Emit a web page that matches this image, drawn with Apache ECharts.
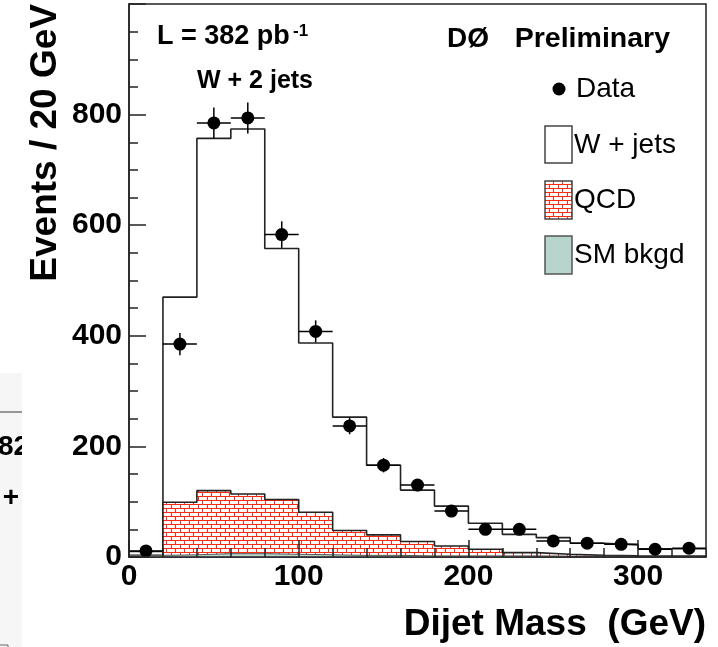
<!DOCTYPE html>
<html>
<head>
<meta charset="utf-8">
<title>Dijet Mass</title>
<script src="https://cdn.jsdelivr.net/npm/echarts@6.0.0/dist/echarts.min.js"></script>
<style>
  html, body { margin: 0; padding: 0; background: #fff; }
  #main { width: 718px; height: 647px; }
</style>
</head>
<body>
<div id="main"></div>
<script>
// bins: 20 GeV wide, low edges
const binLow = [0, 20, 40, 60, 80, 100, 120, 140, 160, 180, 200, 220, 240, 260, 280, 300, 320]
const binWidth = 20

// stacked MC components (events / bin)
const wjets = [7, 371, 637, 660, 454, 306, 205, 126, 93, 72, 47, 33, 30, 22, 20, 13.5, 13.5]
const qcd = [0, 95, 114, 108, 99, 77, 45, 37, 26, 18, 12, 6, 3.5, 1.5, 1, 0.5, 0.5]
const smBkgd = [3, 4, 6, 6, 5, 4, 3, 3, 2, 2, 2, 2, 1.5, 1.5, 1, 1, 1]

// data points and their errors
const dataVals = [11, 385, 785, 794, 583, 408, 237, 166, 130, 83, 50, 50, 29, 25, 23, 14, 16]
const dataErr = [3, 20, 28, 28, 24, 20, 15, 13, 11, 9, 7, 7, 5, 5, 5, 4, 4]

const xTicks = [0, 100, 200, 300]
const yTicks = [0, 200, 400, 600, 800]

const FONT = "'Liberation Sans', Arial, Helvetica, sans-serif"
const LINE = '#222'

// brick pattern for QCD
function brickPattern() {
  const c = document.createElement('canvas')
  c.width = 9
  c.height = 8
  const ctx = c.getContext('2d')
  ctx.fillStyle = '#fff'
  ctx.fillRect(0, 0, 9, 8)
  ctx.fillStyle = '#ff2a10'
  ctx.fillRect(0, 0, 9, 1)
  ctx.fillRect(0, 4, 9, 1)
  ctx.fillRect(0, 0, 1, 4)
  ctx.fillRect(4, 4, 1, 4)
  return { image: c, repeat: 'repeat' }
}
const bricks = brickPattern()

// histogram outline as step points
function stepData(vals) {
  const pts = binLow.map((x, i) => [x, vals[i]])
  pts.push([binLow[binLow.length - 1] + binWidth, vals[vals.length - 1]])
  return pts
}

const qcdTop = smBkgd.map((v, i) => v + qcd[i])
const total = qcdTop.map((v, i) => v + wjets[i])
const dataPts = binLow.map((x, i) => [x + binWidth / 2, dataVals[i], dataErr[i]])

const chart = echarts.init(document.getElementById('main'))

const tickLabel = { fontSize: 30, fontWeight: 'bold', color: '#000', fontFamily: FONT }

chart.setOption({
  animation: false,
  backgroundColor: '#fff',
  grid: {
    left: 129, right: 12, top: 4, bottom: 90,
    show: true, borderColor: LINE, borderWidth: 1.5, backgroundColor: '#fff'
  },
  xAxis: [
    {
      type: 'value', min: 0, max: 340, interval: 100, position: 'bottom', z: 10,
      axisLine: { lineStyle: { color: LINE, width: 1.5 } },
      axisTick: { inside: true, length: 17, lineStyle: { color: LINE, width: 1.5 } },
      axisLabel: Object.assign({
        margin: 5, showMaxLabel: false,
        formatter: v => (xTicks.indexOf(v) >= 0 ? String(v) : '')
      }, tickLabel),
      splitLine: { show: false }
    },
    {
      // minor ticks every 20 GeV
      type: 'value', min: 0, max: 340, interval: 20, position: 'bottom', z: 10,
      axisLine: { show: false },
      axisTick: { inside: true, length: 9, lineStyle: { color: LINE, width: 1.5 } },
      axisLabel: { show: false },
      splitLine: { show: false }
    }
  ],
  yAxis: {
    type: 'value', min: 0, max: 1000, interval: 200, z: 10,
    axisLine: { show: true, lineStyle: { color: LINE, width: 1.5 } },
    axisTick: { show: true, inside: true, length: 17, lineStyle: { color: LINE, width: 1.5 } },
    minorTick: { show: true, splitNumber: 4, length: 9, lineStyle: { color: LINE, width: 1.5 } },
    axisLabel: Object.assign({
      margin: 7, showMaxLabel: false,
      formatter: v => (yTicks.indexOf(v) >= 0 ? String(v) : '')
    }, tickLabel),
    splitLine: { show: false }
  },
  series: [
    {
      name: 'W + jets', type: 'line', step: 'end', symbol: 'none', z: 2,
      data: stepData(total),
      lineStyle: { color: LINE, width: 1.6 },
      areaStyle: { color: '#fff', opacity: 1 }
    },
    {
      name: 'QCD', type: 'line', step: 'end', symbol: 'none', z: 3,
      data: stepData(qcdTop),
      lineStyle: { color: LINE, width: 1.6 },
      areaStyle: { color: bricks, opacity: 1 }
    },
    {
      name: 'SM bkgd', type: 'line', step: 'end', symbol: 'none', z: 4,
      data: stepData(smBkgd),
      lineStyle: { color: '#555', width: 1 },
      areaStyle: { color: '#b7d5cd', opacity: 1 }
    },
    {
      name: 'Data', type: 'custom', z: 5, clip: false,
      data: dataPts,
      renderItem: function (params, api) {
        const x = api.value(0)
        const y = api.value(1)
        const e = api.value(2)
        const c = api.coord([x, y])
        const l = api.coord([x - binWidth / 2, y])
        const r = api.coord([x + binWidth / 2, y])
        const t = api.coord([x, y + e])
        const b = api.coord([x, y - e])
        const st = { stroke: '#000', lineWidth: 1.5 }
        return {
          type: 'group',
          children: [
            { type: 'line', shape: { x1: l[0], y1: c[1], x2: r[0], y2: c[1] }, style: st },
            { type: 'line', shape: { x1: c[0], y1: t[1], x2: c[0], y2: b[1] }, style: st },
            { type: 'circle', shape: { cx: c[0], cy: c[1], r: 6.5 }, style: { fill: '#000' } }
          ]
        }
      }
    }
  ],
  graphic: [
    // axis titles
    {
      type: 'text', x: 46, y: 4, rotation: Math.PI / 2, z: 20,
      style: { text: 'Events / 20 GeV', fontSize: 37, fontWeight: 'bold', fontFamily: FONT, fill: '#000', align: 'right', verticalAlign: 'middle' }
    },
    {
      type: 'text', x: 706, y: 625, z: 20,
      style: { text: 'Dijet Mass  (GeV)', fontSize: 37, fontWeight: 'bold', fontFamily: FONT, fill: '#000', align: 'right', verticalAlign: 'middle' }
    },
    // annotations
    {
      type: 'text', x: 157, y: 37, z: 20,
      style: { text: 'L = 382 pb', fontSize: 27, fontWeight: 'bold', fontFamily: FONT, fill: '#000', verticalAlign: 'middle' }
    },
    {
      type: 'text', x: 293, y: 23, z: 20,
      style: { text: '-1', fontSize: 17, fontWeight: 'bold', fontFamily: FONT, fill: '#000', verticalAlign: 'top' }
    },
    {
      type: 'text', x: 197, y: 81, z: 20,
      style: { text: 'W + 2 jets', fontSize: 25, fontWeight: 'bold', fontFamily: FONT, fill: '#000', verticalAlign: 'middle' }
    },
    {
      type: 'text', x: 447, y: 39, z: 20,
      style: { text: 'DØ', fontSize: 28, fontWeight: 'bold', fontFamily: FONT, fill: '#000', verticalAlign: 'middle' }
    },
    {
      type: 'text', x: 670, y: 39, z: 20,
      style: { text: 'Preliminary', fontSize: 28.5, fontWeight: 'bold', fontFamily: FONT, fill: '#000', align: 'right', verticalAlign: 'middle' }
    },
    // legend
    { type: 'circle', shape: { cx: 559, cy: 89, r: 6.5 }, style: { fill: '#000' }, z: 20 },
    {
      type: 'text', x: 576, y: 89, z: 20,
      style: { text: 'Data', fontSize: 28, fontFamily: FONT, fill: '#000', verticalAlign: 'middle' }
    },
    { type: 'rect', shape: { x: 545, y: 126, width: 27, height: 37 }, style: { fill: '#fff', stroke: '#444', lineWidth: 1.5 }, z: 20 },
    {
      type: 'text', x: 574, y: 145, z: 20,
      style: { text: 'W + jets', fontSize: 28, fontFamily: FONT, fill: '#000', verticalAlign: 'middle' }
    },
    { type: 'rect', shape: { x: 545, y: 181, width: 27, height: 38 }, style: { fill: bricks, stroke: '#444', lineWidth: 1.5 }, z: 20 },
    {
      type: 'text', x: 574, y: 200, z: 20,
      style: { text: 'QCD', fontSize: 28, fontFamily: FONT, fill: '#000', verticalAlign: 'middle' }
    },
    { type: 'rect', shape: { x: 545, y: 236, width: 27, height: 38 }, style: { fill: '#b7d5cd', stroke: '#555', lineWidth: 1.5 }, z: 20 },
    {
      type: 'text', x: 574, y: 255, z: 20,
      style: { text: 'SM bkgd', fontSize: 28, fontFamily: FONT, fill: '#000', verticalAlign: 'middle' }
    },
    // leftover strip of a neighbouring plot at the left edge
    { type: 'rect', shape: { x: 0, y: 373, width: 22, height: 274 }, style: { fill: '#f6f6f6' }, z: 1 },
    { type: 'line', shape: { x1: 0, y1: 412, x2: 22, y2: 412 }, style: { stroke: '#777', lineWidth: 1.5 }, z: 2 },
    {
      type: 'text', x: -2, y: 447, z: 2,
      style: { text: '82', fontSize: 28, fontWeight: 'bold', fontFamily: FONT, fill: '#000', verticalAlign: 'middle' }
    },
    {
      type: 'text', x: 11, y: 498, z: 2,
      style: { text: '+', fontSize: 28, fontWeight: 'bold', fontFamily: FONT, fill: '#000', align: 'center', verticalAlign: 'middle' }
    },
    { type: 'rect', shape: { x: -1, y: 645, width: 9, height: 5 }, style: { fill: 'none', stroke: '#666', lineWidth: 1 }, z: 2 },
    { type: 'rect', shape: { x: 22, y: 373, width: 40, height: 274 }, style: { fill: '#fff' }, z: 3 }
  ]
})
</script>
</body>
</html>
